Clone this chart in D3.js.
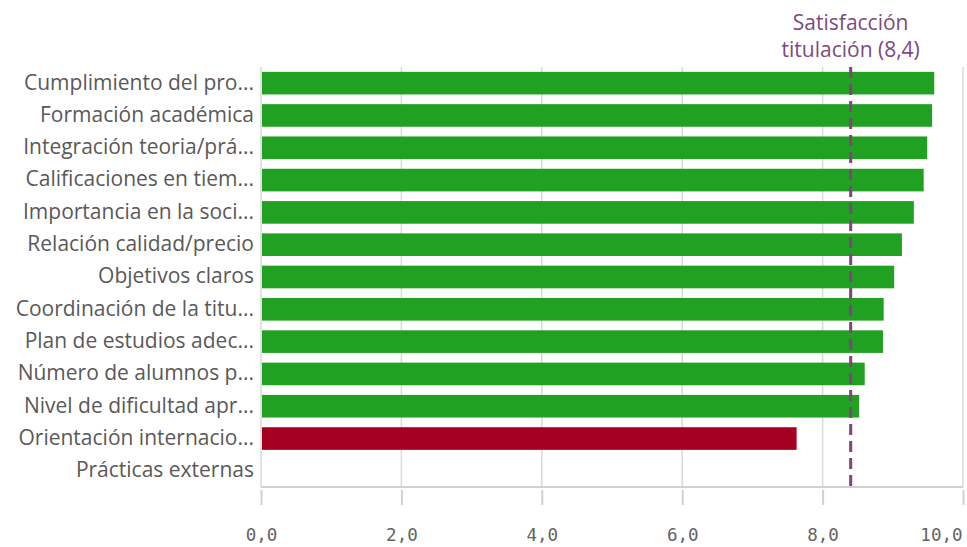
<!DOCTYPE html>
<html><head><meta charset="utf-8">
<script src="https://cdn.jsdelivr.net/npm/d3@7"></script>
<style>body{margin:0;background:#fff;} svg{display:block;}</style>
</head><body><svg id="c" width="967" height="547"></svg>
<script>
const categories = ["Cumplimiento del pro...","Formación académica","Integración teoria/prá...","Calificaciones en tiem...","Importancia en la soci...","Relación calidad/precio","Objetivos claros","Coordinación de la titu...","Plan de estudios adec...","Número de alumnos p...","Nivel de dificultad apr...","Orientación internacio...","Prácticas externas"];
const values = [9.59,9.56,9.49,9.44,9.30,9.13,9.02,8.87,8.86,8.60,8.52,7.63,null];
const barColors = ["#21a121","#21a121","#21a121","#21a121","#21a121","#21a121","#21a121","#21a121","#21a121","#21a121","#21a121","#a50021",null];
const tickValues = [0,2,4,6,8,10];
const refValue = 8.4;
const refLabel = ["Satisfacción","titulación (8,4)"];

const svg = d3.select("#c");
const m = {l:261, r:963, t:67, b:487};
const x = d3.scaleLinear().domain([0,10]).range([m.l, m.r]);
const y = d3.scaleBand().domain(categories).range([m.t, m.b]).paddingInner(0.3).paddingOuter(0.15);

// grid
svg.append("g").selectAll("line").data(tickValues).join("line")
  .attr("x1",d=>x(d)).attr("x2",d=>x(d)).attr("y1",m.t).attr("y2",m.b)
  .attr("stroke","#d9d9d9").attr("stroke-width",1.5);
svg.append("line").attr("x1",m.l).attr("x2",m.r).attr("y1",m.b).attr("y2",m.b).attr("stroke","#d0d0d0").attr("stroke-width",2);

// bars
const data = categories.map((c,i)=>({c, v:values[i], col:barColors[i]})).filter(d=>d.v!=null);
svg.append("g").selectAll("rect").data(data).join("rect")
  .attr("x",x(0)+1).attr("y",d=>y(d.c)).attr("height",y.bandwidth())
  .attr("width",d=>x(d.v)-x(0)-1).attr("fill",d=>d.col);

// y labels
svg.append("g").selectAll("text").data(categories).join("text")
  .attr("x",m.l-7).attr("y",d=>y(d)+y.bandwidth()/2-1).attr("dy","0.35em")
  .attr("text-anchor","end").attr("fill","#595959")
  .style("font-family","'Open Sans', sans-serif").style("font-size","21px")
  .text(d=>d);

// x axis
const xa = svg.append("g").attr("transform",`translate(0,${m.b+3})`)
  .call(d3.axisBottom(x).tickValues(tickValues).tickSize(15).tickPadding(24).tickFormat(d=>d3.format(".1f")(d).replace(".",",")));
xa.select(".domain").remove();
xa.selectAll(".tick line").attr("stroke","#d0d0d0").attr("stroke-width",2);
xa.selectAll(".tick text").attr("fill","#636363").style("font-family","'DejaVu Sans Mono', monospace").style("font-size","17.5px")
  .attr("text-anchor",(d,i)=>i===tickValues.length-1?"end":"middle")
  .attr("x",(d,i)=>i===tickValues.length-1?(m.r-1)-x(d):0);

// reference line
svg.append("line").attr("x1",x(refValue)).attr("x2",x(refValue)).attr("y1",m.t).attr("y2",m.b)
  .attr("stroke","#7e457d").attr("stroke-width",3).attr("stroke-dasharray","11,6");
svg.append("g").selectAll("text").data(refLabel).join("text")
  .attr("x",x(refValue)).attr("y",(d,i)=>30+i*27).attr("text-anchor","middle")
  .attr("fill","#7e4a7d").style("font-family","'Open Sans', sans-serif").style("font-size","21px")
  .text(d=>d);
</script></body></html>
